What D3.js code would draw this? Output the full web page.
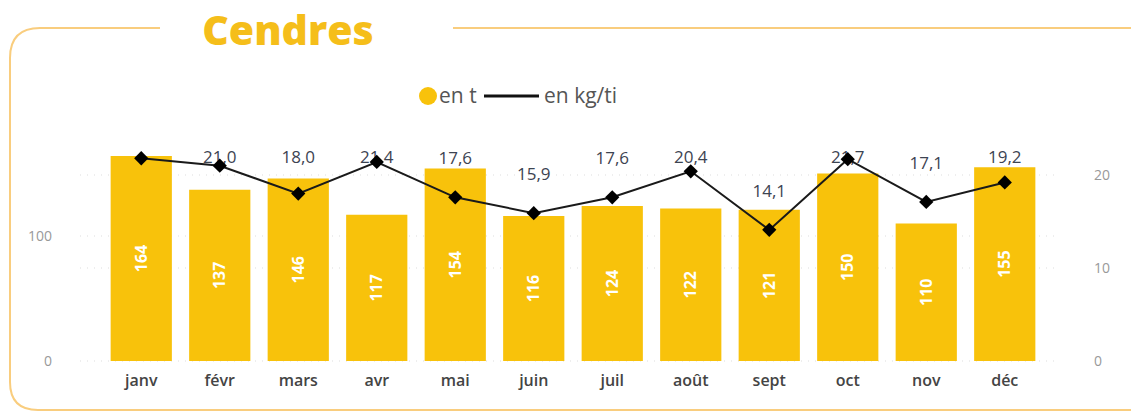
<!DOCTYPE html>
<html>
<head>
<meta charset="utf-8">
<script src="https://cdn.jsdelivr.net/npm/d3@7"></script>
<style>
    html, body { margin: 0; padding: 0; background: #fff; }
    #chart { width: 1131px; height: 416px; }
    text { font-family: "Open Sans", "Noto Sans", sans-serif; }
</style>
</head>
<body>
<div id="chart"></div>
<script>
// Data
const months = ['janv', 'févr', 'mars', 'avr', 'mai', 'juin', 'juil', 'août', 'sept', 'oct', 'nov', 'déc'];
const tonnes = [164, 137, 146, 117, 154, 116, 124, 122, 121, 150, 110, 155];
const kgPerTi = [21.8, 21.0, 18.0, 21.4, 17.6, 15.9, 17.6, 20.4, 14.1, 21.7, 17.1, 19.2];
const leftTicks = [0, 100];
const rightTicks = [0, 10, 20];

const width = 1131, height = 416;
const yellow = '#F8C20B';

const svg = d3.select('#chart')
    .append('svg')
    .attr('width', width)
    .attr('height', height);

// Frame with a gap for the title
const frame = svg.append('g')
    .attr('fill', 'none')
    .attr('stroke', '#F9CD7E')
    .attr('stroke-width', 2);

frame.append('path')
    .attr('d', 'M160,28 H40 Q10,28 10,58 V382 Q10,410 38,410 H1140');
frame.append('path')
    .attr('d', 'M453,28 H1140');

svg.append('text')
    .attr('x', 288)
    .attr('y', 45)
    .attr('text-anchor', 'middle')
    .attr('fill', '#F5BE1A')
    .style('font-size', '41px')
    .style('font-weight', '800')
    .text('Cendres');

// Legend
const legend = svg.append('g').style('font-size', '21px').attr('fill', '#555');
legend.append('circle').attr('cx', 428).attr('cy', 96).attr('r', 9).attr('fill', yellow);
legend.append('text').attr('x', 439).attr('y', 103).text('en t');
legend.append('line')
    .attr('x1', 484).attr('x2', 539).attr('y1', 96).attr('y2', 96)
    .attr('stroke', '#111').attr('stroke-width', 3);
legend.append('text').attr('x', 544).attr('y', 103).text('en kg/ti');

// Scales
const x = d3.scaleBand()
    .domain(months)
    .range([102, 1044])
    .paddingInner(0.22)
    .paddingOuter(0.11);

const yLeft = d3.scaleLinear().domain([0, 200]).range([361, 111]);
const yRight = d3.scaleLinear().domain([0, 25]).range([361, 128.5]);

// Dotted grid lines
const grid = svg.append('g')
    .attr('stroke', '#ddd')
    .attr('stroke-width', 1)
    .attr('stroke-dasharray', '1,6');
leftTicks.forEach(t => {
    grid.append('line').attr('x1', 80).attr('x2', 1060)
        .attr('y1', yLeft(t)).attr('y2', yLeft(t));
});
rightTicks.filter(t => t > 0).forEach(t => {
    grid.append('line').attr('x1', 80).attr('x2', 1060)
        .attr('y1', yRight(t)).attr('y2', yRight(t));
});

// Axes (labels only)
const leftAxis = svg.append('g')
    .attr('transform', 'translate(52,0)')
    .call(d3.axisLeft(yLeft).tickValues(leftTicks).tickSize(0).tickPadding(0));
const rightAxis = svg.append('g')
    .attr('transform', 'translate(1094,0)')
    .call(d3.axisRight(yRight).tickValues(rightTicks).tickSize(0).tickPadding(0));
[leftAxis, rightAxis].forEach(a => {
    a.select('.domain').remove();
    a.selectAll('text')
        .attr('fill', '#999')
        .style('font-size', '14px')
        .style('font-family', '"Open Sans", sans-serif');
});

const bottomAxis = svg.append('g')
    .attr('transform', 'translate(0,371)')
    .call(d3.axisBottom(x).tickSize(0).tickPadding(4));
bottomAxis.select('.domain').remove();
bottomAxis.selectAll('text')
    .attr('fill', '#444')
    .style('font-size', '16px')
    .style('font-weight', '600')
    .style('font-family', '"Open Sans", sans-serif');

// Bars
svg.selectAll('.bar')
    .data(tonnes)
    .enter()
    .append('rect')
    .attr('class', 'bar')
    .attr('x', (d, i) => x(months[i]))
    .attr('y', d => yLeft(d))
    .attr('width', x.bandwidth())
    .attr('height', d => yLeft(0) - yLeft(d))
    .attr('fill', yellow);

// Bar values, rotated
svg.selectAll('.bar-label')
    .data(tonnes)
    .enter()
    .append('text')
    .attr('class', 'bar-label')
    .attr('transform', (d, i) => {
        const cx = x(months[i]) + x.bandwidth() / 2;
        const cy = (yLeft(d) + yLeft(0)) / 2;
        return `translate(${cx},${cy}) rotate(-90)`;
    })
    .attr('text-anchor', 'middle')
    .attr('dy', '0.35em')
    .attr('fill', '#fff')
    .style('font-size', '16px')
    .style('font-weight', 'bold')
    .text(d => d);

// Line values: placed well above the marker, but not higher than the top row
// (janv label not shown in the original)
const fmt = v => v.toFixed(1).replace('.', ',');
const labelY = d => Math.max(yRight(d) - 39, 157);
const lineLabels = svg.append('g');
kgPerTi.forEach((d, i) => {
    if (i === 0) return;
    lineLabels.append('text')
        .attr('x', x(months[i]) + x.bandwidth() / 2)
        .attr('y', labelY(d))
        .attr('dy', '0.35em')
        .attr('text-anchor', 'middle')
        .attr('fill', '#3d4452')
        .style('font-size', '17px')
        .text(fmt(d));
});

// Line + diamond markers
const line = d3.line()
    .x((d, i) => x(months[i]) + x.bandwidth() / 2)
    .y(d => yRight(d));

svg.append('path')
    .datum(kgPerTi)
    .attr('d', line)
    .attr('fill', 'none')
    .attr('stroke', '#1a1a1a')
    .attr('stroke-width', 2);

const diamond = d3.symbol().type(d3.symbolDiamond2).size(130);
svg.selectAll('.marker')
    .data(kgPerTi)
    .enter()
    .append('path')
    .attr('class', 'marker')
    .attr('d', diamond)
    .attr('transform', (d, i) => `translate(${x(months[i]) + x.bandwidth() / 2},${yRight(d)})`)
    .attr('fill', '#000');
</script>
</body>
</html>
